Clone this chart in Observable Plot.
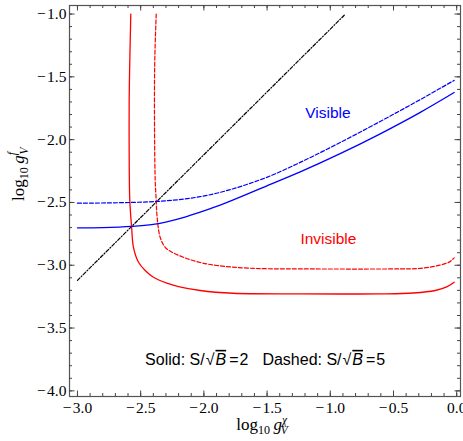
<!DOCTYPE html>
<html><head><meta charset="utf-8">
<script src="https://cdn.jsdelivr.net/npm/d3@7"></script>
<script src="https://cdn.jsdelivr.net/npm/@observablehq/plot@0.6"></script>
<style>body{margin:0;background:#fff} svg{display:block}</style>
</head><body><div id="chart"></div>
<script>
// tick values
const xTicks = [-3, -2.5, -2, -1.5, -1, -0.5, 0];
const yTicks = [-4, -3.5, -3, -2.5, -2, -1.5, -1];
const xMinor = d3.range(-30, 1).map(i => i / 10);
const yMinor = d3.range(-40, -9).map(i => i / 10);

// Solid red: S/sqrt(B)=2, invisible
const solidRedX = [-2.578, -2.586, -2.591, -2.591, -2.586, -2.572, -2.557, -2.517, -2.464, -2.399, -2.293, -2.201, -2.029, -1.768, -1.238, -0.605, -0.344, -0.170, -0.075, -0.020];
const solidRedY = [-1.00, -1.37, -1.689, -2.087, -2.485, -2.692, -2.857, -2.976, -3.042, -3.096, -3.143, -3.170, -3.201, -3.223, -3.228, -3.228, -3.221, -3.201, -3.170, -3.135];
// Dashed red: S/sqrt(B)=5, invisible
const dashedRedX = [-2.377, -2.388, -2.391, -2.385, -2.377, -2.372, -2.346, -2.306, -2.253, -2.164, -2.029, -1.897, -1.634, -1.238, -0.447, -0.300, -0.160, -0.060, -0.020];
const dashedRedY = [-1.00, -1.35, -1.689, -2.326, -2.485, -2.591, -2.777, -2.857, -2.896, -2.936, -2.978, -3.002, -3.024, -3.029, -3.029, -3.026, -3.005, -2.975, -2.941];
// Solid blue: S/sqrt(B)=2, visible
const solidBlueX = [-3.0, -2.8, -2.572, -2.4, -2.293, -2.15, -2.029, -1.9, -1.768, -1.502, -1.238, -0.922, -0.605, -0.288, -0.020];
const solidBlueY = [-2.702, -2.700, -2.691, -2.674, -2.654, -2.617, -2.578, -2.532, -2.480, -2.368, -2.257, -2.112, -1.954, -1.783, -1.625];
// Dashed blue: S/sqrt(B)=5, visible
const dashedBlueX = [-3.0, -2.575, -2.372, -2.2, -2.029, -1.9, -1.768, -1.635, -1.502, -1.238, -0.922, -0.605, -0.288, -0.020];
const dashedBlueY = [-2.506, -2.500, -2.492, -2.478, -2.454, -2.427, -2.391, -2.348, -2.300, -2.181, -2.023, -1.855, -1.681, -1.528];
// Black dash-dot diagonal
const diagX = [-3.0, -0.88];
const diagY = [-3.12, -1.0];

// annotations
const regionLabels = ["Visible", "Invisible"];
const regionX = [-1.019, -1.015];
const regionY = [-1.786, -2.794];
const regionColors = ["#0000ff", "#ff0000"];

const serif = "'Liberation Serif', 'Times New Roman', serif";
const sans = "'Liberation Sans', Arial, sans-serif";
const fmt = d => d < 0 ? "\u2212\u200A" + d3.format(".1f")(-d) : d3.format(".1f")(d);
const frameColor = "#555";
const tickColor = "#444";
const W = 463, H = 441, ML = 69, MR = 3, MT = 5, MB = 45;
const fw = W - ML - MR, fh = H - MT - MB;
const major = 5.5, minor = 3;

const svg = Plot.plot({
  width: W, height: H,
  marginLeft: ML, marginRight: MR, marginTop: MT, marginBottom: MB,
  x: {domain: [-3.063, 0.03], label: null},
  y: {domain: [-4.045, -0.932], label: null},
  style: {fontFamily: serif, background: "#fff"},
  marks: [
    Plot.line(diagY, {x: diagX, y: diagY, stroke: "#000", strokeWidth: 1.2, strokeDasharray: "3.5,1.8,1,1.8"}),
    Plot.line(solidRedY, {x: solidRedX, y: solidRedY, stroke: "#ff0000", strokeWidth: 1.3, curve: "catmull-rom"}),
    Plot.line(dashedRedY, {x: dashedRedX, y: dashedRedY, stroke: "#ff0000", strokeWidth: 1.2, strokeDasharray: "4,2", curve: "catmull-rom"}),
    Plot.line(solidBlueY, {x: solidBlueX, y: solidBlueY, stroke: "#0000ff", strokeWidth: 1.3, curve: "monotone-x"}),
    Plot.line(dashedBlueY, {x: dashedBlueX, y: dashedBlueY, stroke: "#0000ff", strokeWidth: 1.2, strokeDasharray: "4,2", curve: "monotone-x"}),
    Plot.text(regionLabels, {x: regionX, y: regionY, text: regionLabels, fill: regionColors, fontSize: 15.5, fontFamily: sans}),
    Plot.text(["LEGEND"], {x: [-1.515], y: [-3.752], text: d => d, fill: "#000", fontSize: 16, fontFamily: sans}),
    Plot.text(["XLABEL"], {frameAnchor: "bottom", text: d => d, dx: -3, dy: 33, lineAnchor: "bottom", fontSize: 17, fontFamily: serif}),
    Plot.text(["YLABEL"], {frameAnchor: "left", text: d => d, rotate: -90, dx: -46, lineAnchor: "bottom", fontSize: 17, fontFamily: serif}),
    Plot.frame({stroke: frameColor, strokeWidth: 1.2}),
    // inward ticks on all four sides (rules inset from the frame)
    Plot.ruleX(xTicks, {x: d => d, insetTop: fh - major, stroke: tickColor, strokeWidth: 1}),
    Plot.ruleX(xMinor, {x: d => d, insetTop: fh - minor, stroke: tickColor, strokeWidth: 1}),
    Plot.ruleX(xTicks, {x: d => d, insetBottom: fh - major, stroke: tickColor, strokeWidth: 1}),
    Plot.ruleX(xMinor, {x: d => d, insetBottom: fh - minor, stroke: tickColor, strokeWidth: 1}),
    Plot.ruleY(yTicks, {y: d => d, insetRight: fw - major, stroke: tickColor, strokeWidth: 1}),
    Plot.ruleY(yMinor, {y: d => d, insetRight: fw - minor, stroke: tickColor, strokeWidth: 1}),
    Plot.ruleY(yTicks, {y: d => d, insetLeft: fw - major, stroke: tickColor, strokeWidth: 1}),
    Plot.ruleY(yMinor, {y: d => d, insetLeft: fw - minor, stroke: tickColor, strokeWidth: 1}),
    // tick labels
    Plot.axisX(xTicks, {anchor: "bottom", tickSize: 0, tickPadding: 5, tickFormat: fmt, fontSize: 15.5, fontFamily: serif, fill: "#000", label: null}),
    Plot.axisY(yTicks, {anchor: "left", tickSize: 0, tickPadding: 3, tickFormat: fmt, fontSize: 15.5, fontFamily: serif, fill: "#000", label: null})
  ]
});

const it = 'font-style="italic"';
const ov = 'font-style="italic" text-decoration="overline"';
const replacements = {
  XLABEL: `log<tspan dy="4.5" font-size="12">10</tspan><tspan dy="-4.5" dx="3.5" ${it}>g</tspan><tspan dy="-6" font-size="11.5" ${it}>χ</tspan><tspan dx="-6.5" dy="10.5" font-size="11.5" ${it}>V</tspan>`,
  YLABEL: `log<tspan dy="4.5" font-size="12">10</tspan><tspan dy="-4.5" dx="3.5" ${it}>g</tspan><tspan dy="-7.5" font-size="11.5" ${it}>f</tspan><tspan dx="-2.5" dy="12" font-size="11.5" ${it}>V</tspan>`,
  LEGEND: `Solid: S/<tspan dx="1">√</tspan><tspan dx="1" ${ov}>B</tspan><tspan dx="3">=</tspan><tspan dx="1">2</tspan><tspan dx="14">Dashed: S/</tspan><tspan dx="1">√</tspan><tspan dx="1" ${ov}>B</tspan><tspan dx="3">=</tspan><tspan dx="1">5</tspan>`
};
d3.select(svg).selectAll("text").each(function() {
  const r = replacements[this.textContent];
  if (r) this.innerHTML = r;
});
document.getElementById("chart").appendChild(svg);
</script>
</body></html>
